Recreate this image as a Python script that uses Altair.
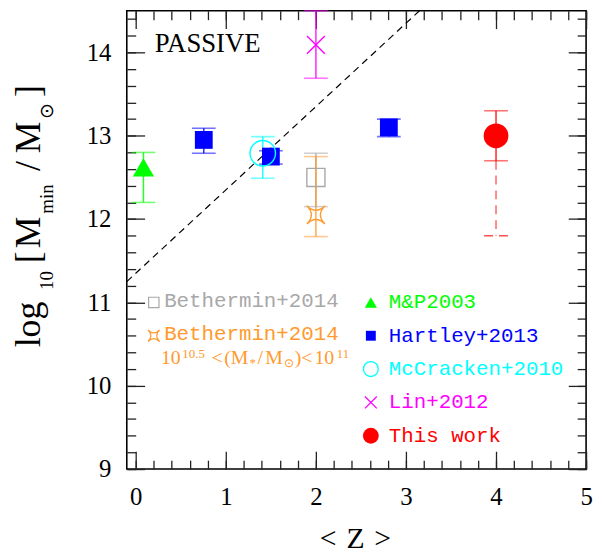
import altair as alt
import pandas as pd

# ---------------- data ----------------
series_names = ["M&P2003", "Hartley+2013", "McCracken+2010", "Lin+2012",
                "Bethermin+2014", "Bethermin+2014 mass-cut", "This work"]
series_colors = ["#00ff00", "#0000ff", "#00ffff", "#ff00ff",
                 "#a8a8a8", "#ff9a2e", "#ff0000"]

mp_z = [0.085]; mp_y = [12.62]; mp_lo = [12.20]; mp_hi = [12.80]
hart_z = [0.755, 1.50, 2.81]
hart_y = [12.95, 12.75, 13.10]
hart_lo = [12.79, 12.66, 12.99]
hart_hi = [13.09, 12.82, 13.20]
mcc_z = [1.41]; mcc_y = [12.79]; mcc_lo = [12.49]; mcc_hi = [12.99]
lin_z = [2.0]; lin_y = [14.09]; lin_lo = [13.69]; lin_hi = [14.50]
beth_z = [2.0]; beth_y = [12.50]; beth_lo = [12.15]; beth_hi = [12.79]
bethm_z = [2.0]; bethm_y = [12.05]; bethm_lo = [11.79]; bethm_hi = [12.75]
this_z = [4.0]; this_y = [13.0]; this_lo = [12.70]; this_hi = [13.30]
this_lo_limit = [11.80]

diag_z = [-0.1, 3.15]
diag_y = [11.25, 14.50]

x_major = [0, 1, 2, 3, 4, 5]
x_minor = [round(0.2 * k, 1) for k in range(26)]
y_major = [9, 10, 11, 12, 13, 14]
y_minor = [round(9 + 0.2 * k, 1) for k in range(28)]

legend_labels = ["M&P2003", "Hartley+2013", "McCracken+2010", "Lin+2012", "This work"]

# ---------------- tables ----------------
groups = [
    ("M&P2003", mp_z, mp_y, mp_lo, mp_hi),
    ("Hartley+2013", hart_z, hart_y, hart_lo, hart_hi),
    ("McCracken+2010", mcc_z, mcc_y, mcc_lo, mcc_hi),
    ("Lin+2012", lin_z, lin_y, lin_lo, lin_hi),
    ("Bethermin+2014", beth_z, beth_y, beth_lo, beth_hi),
    ("Bethermin+2014 mass-cut", bethm_z, bethm_y, bethm_lo, bethm_hi),
    ("This work", this_z, this_y, this_lo, this_hi),
]
rows = []
for name, zs, ys_, los, his in groups:
    for a, b, c, d in zip(zs, ys_, los, his):
        rows.append({"series": name, "z": a, "y": b, "lo": c, "hi": d})
df = pd.DataFrame(rows)
ext = pd.DataFrame({"z": this_z, "lo": this_lo, "lim": this_lo_limit})
diag = pd.DataFrame({"z": diag_z, "y": diag_y})
color_of = dict(zip(series_names, series_colors))

xs = alt.Scale(domain=[-0.1, 5.0], nice=False, zero=False)
ys = alt.Scale(domain=[9.0, 14.5], nice=False, zero=False)


def X(f):
    return alt.X(f"{f}:Q", scale=xs, axis=None)


def Y(f):
    return alt.Y(f"{f}:Q", scale=ys, axis=None)


def XD(v):
    return alt.XDatum(v, type="quantitative", scale=xs, axis=None)


def YD(v):
    return alt.YDatum(v, type="quantitative", scale=ys, axis=None)


col = alt.Color("series:N", scale=alt.Scale(domain=series_names, range=series_colors), legend=None)

XPATH = "M-1,-1L1,1M-1,1L1,-1"
STAR = "M-1,-1Q0,0,1,-1Q0,0,1,1Q0,0,-1,1Q0,0,-1,-1Z"

layers = []

# dashed diagonal
layers.append(alt.Chart(diag).mark_line(color="black", strokeWidth=1.2, strokeDash=[7, 5]).encode(
    x=X("z"), y=Y("y")))

# error bars
layers.append(alt.Chart(df).mark_rule(strokeWidth=1.5, opacity=0.85).encode(
    x=X("z"), y=Y("lo"), y2="hi:Q", color=col))
for f in ["lo", "hi"]:
    layers.append(alt.Chart(df).mark_tick(orient="horizontal", size=24, thickness=1.6, opacity=0.55).encode(
        x=X("z"), y=Y(f), color=col))

# dashed lower extension for this work
layers.append(alt.Chart(ext).mark_rule(color="#ff0000", opacity=0.6, strokeWidth=1.5, strokeDash=[9, 6]).encode(
    x=X("z"), y=Y("lo"), y2="lim:Q"))
layers.append(alt.Chart(ext).mark_rule(color="#ff0000", opacity=0.7, strokeWidth=1.5, strokeDash=[9, 6],
                                       xOffset=-12, x2Offset=12).encode(
    x=X("z"), x2="z:Q", y=Y("lim")))

# markers
marker_specs = {
    "M&P2003": dict(shape="triangle-up", filled=True, size=460),
    "Hartley+2013": dict(shape="square", filled=True, size=324),
    "McCracken+2010": dict(shape="circle", filled=False, size=660),
    "Lin+2012": dict(shape=XPATH, filled=False, size=324),
    "Bethermin+2014": dict(shape="square", filled=False, size=335),
    "Bethermin+2014 mass-cut": dict(shape=STAR, filled=False, size=335),
    "This work": dict(shape="circle", filled=True, size=625),
}
for name, spec in marker_specs.items():
    layers.append(alt.Chart(df[df.series == name]).mark_point(
        color=color_of[name], opacity=1, strokeWidth=1.4, **spec).encode(x=X("z"), y=Y("y")))


def text_layer(s, x, y, **kw):
    return alt.Chart(pd.DataFrame({"t": [s]})).mark_text(**kw).encode(text="t:N", x=x, y=y)


MONO = "Liberation Mono"
SERIF = "Liberation Serif"

# right legend
legend_syms = {
    "M&P2003": dict(shape="triangle-up", filled=True, size=150),
    "Hartley+2013": dict(shape="square", filled=True, size=100),
    "McCracken+2010": dict(shape="circle", filled=False, size=225),
    "Lin+2012": dict(shape=XPATH, filled=False, size=144),
    "This work": dict(shape="circle", filled=True, size=256),
}
row_y = 11.0
for lab in legend_labels:
    c = color_of[lab]
    layers.append(alt.Chart(pd.DataFrame({"t": [lab]})).mark_point(
        color=c, opacity=1, strokeWidth=1.3, **legend_syms[lab]).encode(x=XD(2.61), y=YD(row_y)))
    layers.append(text_layer(lab, XD(2.81), YD(row_y), align="left", baseline="alphabetic", dy=6,
                             font=MONO, fontSize=21, color=c))
    row_y -= 0.4

# left legend (Bethermin)
gray = color_of["Bethermin+2014"]
orange = color_of["Bethermin+2014 mass-cut"]
layers.append(alt.Chart(pd.DataFrame({"t": ["g"]})).mark_point(
    shape="square", filled=False, size=110, color=gray, opacity=1, strokeWidth=1.2).encode(x=XD(0.2), y=YD(11.0)))
layers.append(text_layer("Bethermin+2014", XD(0.315), YD(11.0), align="left", baseline="alphabetic", dy=5,
                         font=MONO, fontSize=21, color=gray))
layers.append(alt.Chart(pd.DataFrame({"t": ["o"]})).mark_point(
    shape=STAR, filled=False, size=140, color=orange, opacity=1, strokeWidth=1.2).encode(x=XD(0.2), y=YD(10.6)))
layers.append(text_layer("Bethermin+2014", XD(0.315), YD(10.6), align="left", baseline="alphabetic", dy=4,
                         font=MONO, fontSize=21, color=orange))
pieces = [("10", 25.4, 0, 20), ("10.5", 47.0, -6, 13), ("<", 76.5, 0, 20), ("(M", 89.4, 0, 20),
          ("*", 115.0, 3, 13), ("/", 123.0, 0, 20), ("M", 130.7, 0, 20), ("\u2299", 149.5, 3, 12),
          (")<", 160.5, 0, 20), ("10", 180.5, 0, 20), ("11", 203.0, -6, 13)]
for s, dx, dy, fs in pieces:
    layers.append(text_layer(s, XD(0.0), YD(10.26), align="left", baseline="alphabetic", dx=dx, dy=dy,
                             font=SERIF, fontSize=fs, color=orange))

# PASSIVE
layers.append(text_layer("PASSIVE", XD(0.21), YD(14.0), align="left", baseline="alphabetic",
                         font=SERIF, fontSize=27, color="black"))

# y-axis title (composed, rotated)
ytitle = [("log", -88, 340, 36), ("10", -75, 282, 19), ("[", -88, 255, 36), ("M", -88, 240, 36),
          ("min", -75, 205, 19), ("/", -88, 162, 36), ("M", -88, 144, 36), ("\u2299", -75, 109, 19),
          ("]", -88, 87, 36)]
for s, px, py, fs in ytitle:
    layers.append(text_layer(s, alt.value(px), alt.value(py), align="left", baseline="alphabetic",
                             angle=270, font=SERIF, fontSize=fs, color="black"))

# x-axis title
for s, px in [("<", 195), ("Z", 222), (">", 250)]:
    layers.append(text_layer(s, alt.value(px), alt.value(543), align="left", baseline="alphabetic",
                             font=SERIF, fontSize=30, color="black"))

# axes: labels outside, ticks inward on all four sides
frame = pd.DataFrame({"z": [2.0], "y": [12.0]})
TC = "#222222"


def tick_axis(orient, offset, values, size):
    return alt.Axis(orient=orient, offset=offset, values=values, labels=False, tickSize=size,
                    tickColor=TC, tickWidth=1.3, domain=False, grid=False, title=None)


x_lab = alt.Axis(orient="bottom", values=x_major, format="d", ticks=False, tickSize=0, domain=False,
                 grid=False, labelPadding=16, labelFont=SERIF, labelFontSize=25, labelColor="black",
                 labelFlush=False, labelOverlap=False, title=None)
y_lab = alt.Axis(orient="left", values=y_major, format="d", ticks=False, tickSize=0, domain=False,
                 grid=False, labelPadding=16, labelFont=SERIF, labelFontSize=25, labelColor="black",
                 labelFlush=False, labelOverlap=False, title=None)
axis_pairs = [
    (x_lab, y_lab),
    (tick_axis("bottom", -463, x_major, 18), tick_axis("left", -464, y_major, 18)),
    (tick_axis("bottom", -463, x_minor, 9), tick_axis("left", -464, y_minor, 9)),
    (tick_axis("top", -463, x_major, 18), tick_axis("right", -464, y_major, 18)),
    (tick_axis("top", -463, x_minor, 9), tick_axis("right", -464, y_minor, 9)),
]
for ax, ay in axis_pairs:
    layers.append(alt.Chart(frame).mark_point(opacity=0).encode(
        x=alt.X("z:Q", scale=xs, axis=ax), y=alt.Y("y:Q", scale=ys, axis=ay)))

chart = alt.layer(*layers).resolve_axis(x="independent", y="independent").properties(
    width=464, height=463,
    autosize=alt.AutoSizeParams(type="none"),
    padding={"left": 120, "top": 0, "right": 8, "bottom": 82},
).configure_view(stroke="black", strokeWidth=1.6)

chart.save("out.html", embed_options={"renderer": "svg", "actions": False})
